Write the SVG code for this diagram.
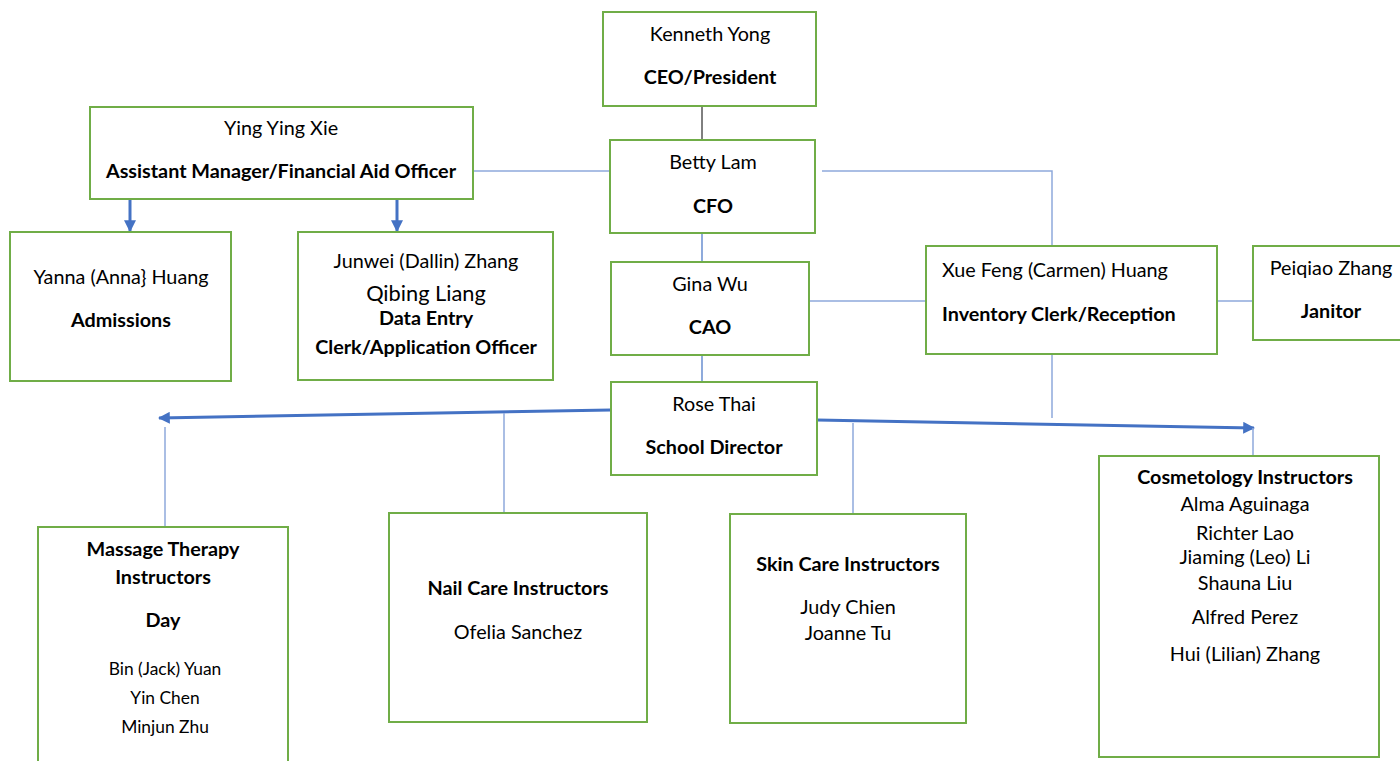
<svg xmlns="http://www.w3.org/2000/svg" width="1400" height="761" viewBox="0 0 1400 761">
<defs>
<style>
.box{fill:#fff;stroke:#70AD47;stroke-width:2}
.t{font-family:Lato,"Liberation Sans",sans-serif;font-size:19.8px;fill:#000;text-anchor:middle}
.b{font-weight:bold}
.s{font-size:17.4px}
.thin{stroke:#8EA9DB;stroke-width:1.5;fill:none}
.thinb{stroke:#4472C4;stroke-width:1.2;fill:none}
.thick{stroke:#4472C4;stroke-width:3;fill:none}
</style>
<marker id="ah" viewBox="0 0 10 10" refX="9" refY="5" markerWidth="4" markerHeight="4" orient="auto" markerUnits="strokeWidth">
<path d="M0,0 L10,5 L0,10 z" fill="#4472C4"/>
</marker>
</defs>
<rect width="1400" height="761" fill="#fff"/>
<g id="connectors">
<line x1="702" y1="106" x2="702" y2="140" stroke="#000" stroke-width="1"/>
<line class="thin" x1="473" y1="171" x2="610" y2="171"/>
<polyline class="thin" points="822,171 1052,171 1052,246"/>
<line class="thinb" x1="702" y1="233" x2="702" y2="262"/>
<line class="thinb" x1="702" y1="355" x2="702" y2="382"/>
<line class="thin" x1="809" y1="301" x2="926" y2="301"/>
<line class="thin" x1="1217" y1="301" x2="1253" y2="301"/>
<line class="thin" x1="1052" y1="355" x2="1052" y2="418"/>
<line class="thick" x1="130" y1="199" x2="130" y2="231" marker-end="url(#ah)"/>
<line class="thick" x1="397" y1="199" x2="397" y2="231" marker-end="url(#ah)"/>
<line class="thick" x1="611" y1="410" x2="159" y2="418" marker-end="url(#ah)"/>
<line class="thick" x1="817" y1="420" x2="1254" y2="428" marker-end="url(#ah)"/>
<line class="thin" x1="165" y1="427" x2="165" y2="527"/>
<line class="thin" x1="504" y1="413" x2="504" y2="513"/>
<line class="thin" x1="853" y1="423" x2="853" y2="514"/>
<line class="thin" x1="1253" y1="428" x2="1253" y2="456"/>
</g>
<g id="kenneth">
<rect class="box" x="603" y="12" width="213" height="94"/>
<text class="t" x="710" y="41">Kenneth Yong</text>
<text class="t b" x="710" y="84">CEO/President</text>
</g>
<g id="yingying">
<rect class="box" x="90" y="107" width="383" height="92"/>
<text class="t" x="281" y="135">Ying Ying Xie</text>
<text class="t b" x="281" y="178">Assistant Manager/Financial Aid Officer</text>
</g>
<g id="betty">
<rect class="box" x="610" y="140" width="205" height="93"/>
<text class="t" x="713" y="169">Betty Lam</text>
<text class="t b" x="713" y="213">CFO</text>
</g>
<g id="yanna">
<rect class="box" x="10" y="232" width="221" height="149"/>
<text class="t" x="121" y="284">Yanna (Anna} Huang</text>
<text class="t b" x="121" y="327">Admissions</text>
</g>
<g id="junwei">
<rect class="box" x="298" y="232" width="255" height="148"/>
<text class="t" x="426" y="268">Junwei (Dallin) Zhang</text>
<text class="t" x="426" y="301" style="font-size:21.8px">Qibing Liang</text>
<text class="t b" x="426" y="325">Data Entry</text>
<text class="t b" x="426" y="354">Clerk/Application Officer</text>
</g>
<g id="gina">
<rect class="box" x="611" y="262" width="198" height="93"/>
<text class="t" x="710" y="291">Gina Wu</text>
<text class="t b" x="710" y="334">CAO</text>
</g>
<g id="xuefeng">
<rect class="box" x="926" y="246" width="291" height="108"/>
<text class="t" x="942" y="277" style="text-anchor:start">Xue Feng (Carmen) Huang</text>
<text class="t b" x="942" y="321" style="text-anchor:start">Inventory Clerk/Reception</text>
</g>
<g id="peiqiao">
<rect class="box" x="1253" y="246" width="160" height="94"/>
<text class="t" x="1331" y="275">Peiqiao Zhang</text>
<text class="t b" x="1331" y="318">Janitor</text>
</g>
<g id="rose">
<rect class="box" x="611" y="382" width="206" height="93"/>
<text class="t" x="714" y="411">Rose Thai</text>
<text class="t b" x="714" y="454">School Director</text>
</g>
<g id="massage">
<rect class="box" x="38" y="527" width="250" height="240"/>
<text class="t b" x="163" y="556">Massage Therapy</text>
<text class="t b" x="163" y="584">Instructors</text>
<text class="t b" x="163" y="627">Day</text>
<text class="t s" x="165" y="675">Bin (Jack) Yuan</text>
<text class="t s" x="165" y="704">Yin Chen</text>
<text class="t s" x="165" y="733">Minjun Zhu</text>
</g>
<g id="nail">
<rect class="box" x="389" y="513" width="258" height="209"/>
<text class="t b" x="518" y="595">Nail Care Instructors</text>
<text class="t" x="518" y="639">Ofelia Sanchez</text>
</g>
<g id="skin">
<rect class="box" x="730" y="514" width="236" height="209"/>
<text class="t b" x="848" y="571">Skin Care Instructors</text>
<text class="t" x="848" y="614">Judy Chien</text>
<text class="t" x="848" y="640">Joanne Tu</text>
</g>
<g id="cosmetology">
<rect class="box" x="1099" y="456" width="280" height="301"/>
<text class="t b" x="1245" y="484">Cosmetology Instructors</text>
<text class="t" x="1245" y="511">Alma Aguinaga</text>
<text class="t" x="1245" y="540">Richter Lao</text>
<text class="t" x="1245" y="564">Jiaming (Leo) Li</text>
<text class="t" x="1245" y="590">Shauna Liu</text>
<text class="t" x="1245" y="624">Alfred Perez</text>
<text class="t" x="1245" y="661">Hui (Lilian) Zhang</text>
</g>
</svg>
